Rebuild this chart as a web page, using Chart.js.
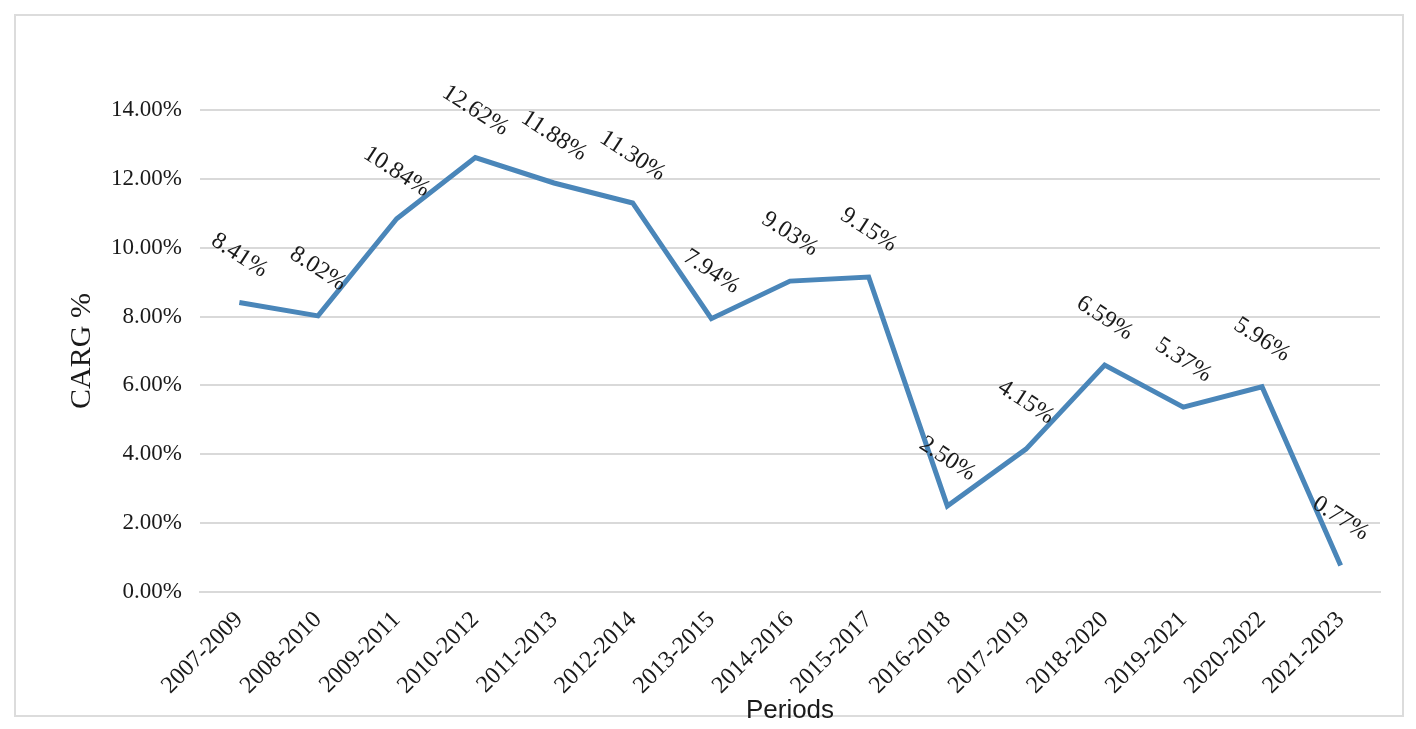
<!DOCTYPE html>
<html>
<head>
<meta charset="utf-8">
<title>CAGR by period</title>
<script src="https://cdn.jsdelivr.net/npm/chart.js@4.4.1/dist/chart.umd.min.js"></script>
<style>
  html, body { margin: 0; padding: 0; background: #fff; }
  #frame {
    position: absolute; left: 14px; top: 14px; width: 1390px; height: 703px;
    border: 2px solid #dcdcdc; box-sizing: border-box;
  }
  #wrap { position: absolute; left: 0; top: 0; width: 1416px; height: 729px; }
</style>
</head>
<body>
<div id="frame"></div>
<div id="wrap"><canvas id="cagrChart" width="1416" height="729"></canvas></div>
<script>
// three-year windows and their compound annual growth
const periods = [
  '2007-2009', '2008-2010', '2009-2011', '2010-2012', '2011-2013',
  '2012-2014', '2013-2015', '2014-2016', '2015-2017', '2016-2018',
  '2017-2019', '2018-2020', '2019-2021', '2020-2022', '2021-2023'
];
const cagrValues = [8.41, 8.02, 10.84, 12.62, 11.88, 11.30, 7.94, 9.03, 9.15, 2.50, 4.15, 6.59, 5.37, 5.96, 0.77];
const yTicks = [0, 2, 4, 6, 8, 10, 12, 14];

const serif = '"Liberation Serif", "Times New Roman", serif';
const lineColour = '#4a86b9';

// value labels above each point, tilted like the original report
const tiltedLabels = {
  id: 'tiltedLabels',
  afterDatasetsDraw(chart) {
    const ctx = chart.ctx;
    const meta = chart.getDatasetMeta(0);
    ctx.save();
    ctx.font = '24px ' + serif;
    ctx.fillStyle = '#1a1a1a';
    ctx.textAlign = 'center';
    ctx.textBaseline = 'middle';
    meta.data.forEach((pt, i) => {
      ctx.save();
      ctx.translate(pt.x, pt.y - 47);
      ctx.rotate(33 * Math.PI / 180);
      ctx.fillText(cagrValues[i].toFixed(2) + '%', 0, 0);
      ctx.restore();
    });
    ctx.restore();
  }
};

new Chart(document.getElementById('cagrChart'), {
  type: 'line',
  data: {
    labels: periods,
    datasets: [{
      data: cagrValues,
      borderColor: lineColour,
      borderWidth: 5,
      pointRadius: 0,
      tension: 0,
      fill: false
    }]
  },
  options: {
    responsive: false,
    animation: false,
    layout: { padding: { left: 0, right: 36, top: 110, bottom: 0 } },
    plugins: {
      legend: { display: false },
      tooltip: { enabled: false }
    },
    scales: {
      x: {
        offset: true,
        grid: { display: false, drawTicks: false },
        border: { display: true, color: '#d9d9d9', width: 2 },
        ticks: {
          color: '#1a1a1a',
          font: { family: serif, size: 24 },
          minRotation: 45,
          maxRotation: 45,
          padding: 14,
          autoSkip: false
        },
        title: {
          display: true,
          text: 'Periods',
          color: '#1a1a1a',
          font: { family: '"Liberation Sans", Arial, sans-serif', size: 26 },
          padding: { top: 0, bottom: 3 }
        },
        afterFit(scale) { scale.height = 137; }
      },
      y: {
        min: 0,
        max: 14,
        afterBuildTicks(scale) { scale.ticks = yTicks.map(v => ({ value: v })); },
        grid: { color: '#d9d9d9', lineWidth: 2, drawTicks: false },
        border: { display: false },
        ticks: {
          color: '#1a1a1a',
          font: { family: serif, size: 23 },
          padding: 18,
          callback: v => v.toFixed(2) + '%'
        },
        title: {
          display: true,
          text: 'CARG %',
          color: '#1a1a1a',
          font: { family: serif, size: 30 },
          padding: { top: 64, bottom: 0 }
        },
        afterFit(scale) { scale.width = 200; }
      }
    }
  },
  plugins: [tiltedLabels]
});
</script>
</body>
</html>
